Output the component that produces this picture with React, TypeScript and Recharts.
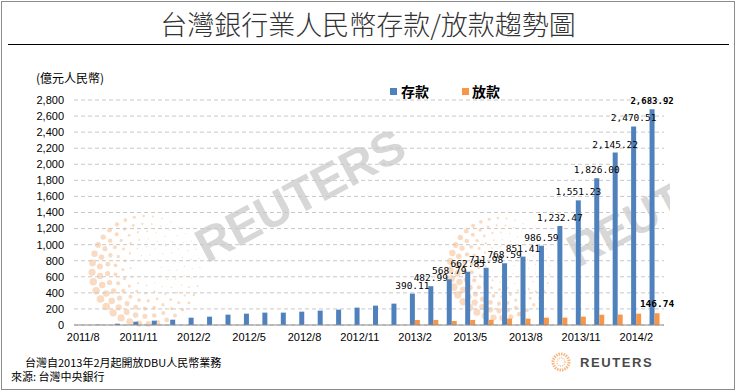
import { BarChart, Bar, XAxis, YAxis, CartesianGrid, LabelList } from 'recharts'

// monthly, 2011/8 .. 2014/3
const months = [
  '2011/8', '2011/9', '2011/10', '2011/11', '2011/12',
  '2012/1', '2012/2', '2012/3', '2012/4', '2012/5', '2012/6',
  '2012/7', '2012/8', '2012/9', '2012/10', '2012/11', '2012/12',
  '2013/1', '2013/2', '2013/3', '2013/4', '2013/5', '2013/6',
  '2013/7', '2013/8', '2013/9', '2013/10', '2013/11', '2013/12',
  '2014/1', '2014/2', '2014/3',
]

// 存款 (億元人民幣)
const deposits = [
  1, 4, 16, 41, 54,
  66, 91, 104, 129, 141, 154,
  154, 166, 179, 191, 216, 241,
  266, 390.11, 482.99, 568.79, 662.85, 711.98,
  768.59, 851.41, 986.59, 1232.47, 1551.23, 1826.0,
  2145.22, 2470.51, 2683.92,
]

// 放款 (DBU opened 2013/2)
const loans = [
  null, null, null, null, null,
  null, null, null, null, null, null,
  null, null, null, null, null, null,
  null, 62, 63, 50, 63, 65,
  80, 80, 91, 92, 104, 128,
  130, 141, 146.74,
]

const yTicks = [0, 200, 400, 600, 800, 1000, 1200, 1400, 1600, 1800, 2000, 2200, 2400, 2600, 2800]

const BLUE = '#4F81BD'
const ORANGE = '#F79646'
const CJK = '"Noto Sans CJK TC", "Noto Sans CJK SC", sans-serif'
const LABEL_FROM = months.indexOf('2013/2')

const data = months.map((m, i) => ({ month: m, deposit: deposits[i], loan: loans[i] }))

const fmt2 = (v: number) =>
  v.toLocaleString('en-US', { minimumFractionDigits: 2, maximumFractionDigits: 2 })

const DepositLabel = (props: any) => {
  const { x, y, width, value } = props
  const i = deposits.indexOf(value)
  if (i < LABEL_FROM) return null
  const last = i === deposits.length - 1
  return (
    <text
      x={x + width / 2}
      y={y - 5}
      textAnchor="middle"
      fontFamily='"DejaVu Sans Mono", monospace'
      fontSize={last ? 9 : 9.5}
      fontWeight={last ? 700 : 400}
      fill="#000"
    >
      {fmt2(value)}
    </text>
  )
}

const LoanLabel = (props: any) => {
  const { x, y, width, value } = props
  if (value !== loans[loans.length - 1]) return null
  return (
    <text
      x={x + width / 2}
      y={y - 6}
      textAnchor="middle"
      fontFamily='"DejaVu Sans Mono", monospace'
      fontSize={9.5}
      fontWeight={700}
      fill="#000"
    >
      {fmt2(value)}
    </text>
  )
}

// faint reuters dot-ring in the background
function DotRing({ cx, cy, r }: { cx: number; cy: number; r: number }) {
  const dots = []
  for (let k = 1; k <= 6; k++) {
    const rr = (r * (k + 1)) / 7
    const n = 6 + k * 5
    for (let j = 0; j < n; j++) {
      const a = (j / n) * Math.PI * 2 + k * 0.4
      const s = (0.5 + k * 0.55) * (0.55 + 0.45 * Math.cos(a - 2.6))
      dots.push(
        <circle key={k + '-' + j} cx={cx + rr * Math.cos(a)} cy={cy + rr * Math.sin(a)} r={Math.max(0.6, s)} />
      )
    }
  }
  return <g fill="#f4b07a" opacity={0.45}>{dots}</g>
}

function Watermark() {
  return (
    <svg width={736} height={391} style={{ position: 'absolute', left: 0, top: 0 }}>
      <defs>
        <clipPath id="wmclip">
          <rect x={0} y={0} width={670} height={391} />
        </clipPath>
      </defs>
      <DotRing cx={146} cy={270} r={54} />
      <DotRing cx={500} cy={268} r={50} />
      <text
        x={300}
        y={212}
        textAnchor="middle"
        fontFamily='"Liberation Sans", Arial, sans-serif'
        fontWeight={700}
        fontSize={48}
        fill="#bdbdbd"
        opacity={0.6}
        transform="rotate(-28 300 195)"
      >
        REUTERS
      </text>
      <g clipPath="url(#wmclip)">
        <text
          x={578}
          y={268}
          fontFamily='"Liberation Sans", Arial, sans-serif'
          fontWeight={700}
          fontSize={46}
          fill="#bdbdbd"
          opacity={0.6}
          transform="rotate(-28 578 268)"
        >
          REUT
        </text>
      </g>
      {/* logo bottom right */}
      <circle cx={561} cy={362} r={8} fill="none" stroke="#f3a55e" strokeWidth={3} strokeDasharray="1.5 1" opacity={0.8} />
      <circle cx={561} cy={362} r={4} fill="none" stroke="#f3a55e" strokeWidth={1.5} strokeDasharray="1 1" opacity={0.7} />
      <text
        x={580}
        y={367}
        fontFamily='"Liberation Sans", Arial, sans-serif'
        fontWeight={700}
        fontSize={13}
        letterSpacing={1.6}
        fill="#4a4a4a"
      >
        REUTERS
      </text>
    </svg>
  )
}

export default function App() {
  return (
    <div style={{ position: 'relative', width: 736, height: 391, background: '#fff', overflow: 'hidden' }}>
      <style>{'body{margin:0}'}</style>
      <div
        style={{
          position: 'absolute', left: 1, top: 1, width: 732, height: 387,
          border: '1px solid #8c8c8c',
        }}
      />
      <Watermark />
      <div
        style={{
          position: 'absolute', left: 0, top: 9, width: 736, textAlign: 'center',
          fontFamily: CJK, fontSize: 27, fontWeight: 300, color: '#333', lineHeight: '30px',
        }}
      >
        台灣銀行業人民幣存款/放款趨勢圖
      </div>
      <div style={{ position: 'absolute', left: 8, top: 44, width: 721, height: 1, background: '#000' }} />
      <div style={{ position: 'absolute', left: 36, top: 69, fontFamily: CJK, fontSize: 12, color: '#000' }}>
        (億元人民幣)
      </div>

      {/* legend */}
      <div
        style={{
          position: 'absolute', left: 390, top: 81, display: 'flex', alignItems: 'center',
          fontFamily: CJK, fontSize: 14, fontWeight: 700, color: '#000',
        }}
      >
        <span style={{ width: 7, height: 7, background: BLUE, marginRight: 4 }} />
        <span style={{ marginRight: 33 }}>存款</span>
        <span style={{ width: 7, height: 7, background: ORANGE, marginRight: 3 }} />
        <span>放款</span>
      </div>

      <div style={{ position: 'absolute', left: 0, top: 0 }}>
        <BarChart
          width={736}
          height={391}
          data={data}
          margin={{ top: 100, right: 72, bottom: 36, left: 14 }}
          barGap={0}
          barSize={5}
        >
          <CartesianGrid vertical={false} stroke="#c8c8c8" strokeDasharray="4 3" />
          <XAxis
            dataKey="month"
            interval={2}
            tickLine={false}
            axisLine={{ stroke: '#8c8c8c' }}
            tick={{ fill: '#000', fontSize: 11, fontFamily: '"Liberation Sans", Arial, sans-serif' }}
            height={30}
          />
          <YAxis
            domain={[0, 2800]}
            ticks={yTicks}
            interval={0}
            width={60}
            axisLine={false}
            tickLine={false}
            tickMargin={4}
            tickFormatter={(v: number) => v.toLocaleString('en-US')}
            tick={{ fill: '#000', fontSize: 11, fontFamily: '"Liberation Sans", Arial, sans-serif' }}
          />
          <Bar dataKey="deposit" fill={BLUE} isAnimationActive={false}>
            <LabelList dataKey="deposit" content={DepositLabel} />
          </Bar>
          <Bar dataKey="loan" fill={ORANGE} isAnimationActive={false}>
            <LabelList dataKey="loan" content={LoanLabel} />
          </Bar>
        </BarChart>
      </div>

      <div style={{ position: 'absolute', left: 25, top: 355, fontFamily: CJK, fontSize: 11, color: '#000', lineHeight: '14px' }}>
        台灣自2013年2月起開放DBU人民幣業務
      </div>
      <div style={{ position: 'absolute', left: 11, top: 369, fontFamily: CJK, fontSize: 11, color: '#000', lineHeight: '14px' }}>
        來源: 台灣中央銀行
      </div>
    </div>
  )
}
